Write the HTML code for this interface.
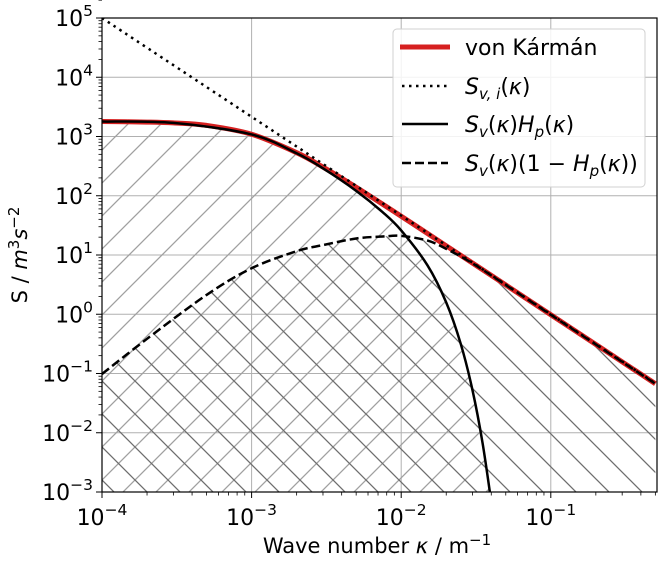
<!DOCTYPE html>
<html><head><meta charset="utf-8"><style>
html,body{margin:0;padding:0;background:#fff;overflow:hidden;width:664px;height:562px;}
svg{display:block;font-family:"DejaVu Sans","Liberation Sans",sans-serif;}
</style></head><body>
<svg id="chart" width="664" height="562" viewBox="0 0 664 562" xmlns="http://www.w3.org/2000/svg">
<defs>
<clipPath id="plotClip"><rect x="102" y="18" width="555" height="474"/></clipPath>
<pattern id="hatchFwd" patternUnits="userSpaceOnUse" width="33" height="33" x="102" y="18">
<path d="M-1,34 L34,-1 M-17,17 L17,-17 M16,50 L50,16" stroke="#a0a0a0" stroke-width="1.3"/>
</pattern>
<pattern id="hatchBack" patternUnits="userSpaceOnUse" width="33" height="33" x="102" y="18">
<path d="M-1,-1 L34,34 M16,-17 L50,17 M-17,16 L17,50" stroke="#6e6e6e" stroke-width="1.3"/>
</pattern>
</defs>
<g id="grid"></g>
<g id="fills" clip-path="url(#plotClip)"></g>
<g id="series" clip-path="url(#plotClip)"></g>
<rect x="102" y="18" width="555" height="474" fill="none" stroke="#000" stroke-width="1.2"/>
<g id="ticks"></g>
<text x="377" y="553" text-anchor="middle" font-size="21">Wave number <tspan font-style="italic">κ</tspan> / m<tspan dy="-8" font-size="15">−1</tspan></text>
<text transform="translate(27,255) rotate(-90)" text-anchor="middle" font-size="21">S / <tspan font-style="italic">m</tspan><tspan dy="-8" font-size="15">3</tspan><tspan dy="8" font-style="italic">s</tspan><tspan dy="-8" font-size="15">−2</tspan></text>
<g>
<rect x="393" y="29" width="252" height="158" rx="4" fill="#fff" fill-opacity="0.85" stroke="#d0d0d0"/>
<g>
<line x1="400" y1="47" x2="450" y2="47" stroke="#d62020" stroke-width="5"/>
<text x="465" y="55" font-size="22">von Kármán</text></g>
<g>
<line x1="402" y1="86" x2="448" y2="86" stroke="#000" stroke-width="2.5" stroke-dasharray="2.5,4.5"/>
<text x="465" y="94" font-size="22" font-style="italic">S<tspan dy="5" font-size="15">v, i</tspan><tspan dy="-5" font-style="normal">(</tspan>κ<tspan font-style="normal">)</tspan></text></g>
<g>
<line x1="402" y1="124" x2="448" y2="124" stroke="#000" stroke-width="2.5"/>
<text x="465" y="132" font-size="22" font-style="italic">S<tspan dy="5" font-size="15">v</tspan><tspan dy="-5" font-style="normal">(</tspan>κ<tspan font-style="normal">)</tspan>H<tspan dy="5" font-size="15">p</tspan><tspan dy="-5" font-style="normal">(</tspan>κ<tspan font-style="normal">)</tspan></text></g>
<g>
<line x1="402" y1="163" x2="448" y2="163" stroke="#000" stroke-width="2.5" stroke-dasharray="9,4"/>
<text x="465" y="171" font-size="22" font-style="italic">S<tspan dy="5" font-size="15">v</tspan><tspan dy="-5" font-style="normal">(</tspan>κ<tspan font-style="normal">)(1 − </tspan>H<tspan dy="5" font-size="15">p</tspan><tspan dy="-5" font-style="normal">(</tspan>κ<tspan font-style="normal">))</tspan></text></g>
</g>
</svg>
<script>
// ---- data ----
const svK = [1e-4, 2e-4, 3e-4, 5e-4, 1e-3, 2e-3, 3e-3, 5e-3, 1e-2, 2e-2, 5e-2, 0.1, 0.2, 0.5];
const svVal = [1788, 1751, 1696, 1540, 1090, 533, 304.6, 139, 45.1, 14.3, 3.12, 0.981, 0.309, 0.0672];
const sviK = [1e-4, 0.5];
const sviVal = [1e5, 0.068];
const hpK = [1e-4, 3e-4, 1e-3, 2e-3, 3e-3, 5e-3, 7.5e-3, 1e-2, 1.5e-2, 2e-2, 2.5e-2, 3e-2, 3.5e-2, 4e-2];
const hpVal = [1788, 1695, 1084, 521, 290, 121, 53.1, 26.0, 6.67, 1.58, 0.317, 0.0515, 0.00667, 0.00068];
const rK = [1e-4, 2e-4, 5e-4, 1e-3, 2e-3, 3e-3, 5e-3, 7.5e-3, 1e-2, 1.5e-2, 2e-2, 3e-2, 5e-2, 0.1, 0.2, 0.5];
const rVal = [0.098, 0.385, 2.12, 5.98, 11.6, 14.7, 19, 20.5, 21, 17.5, 12.7, 7.23, 3.12, 0.981, 0.309, 0.0672];
const xTickExp = [-4, -3, -2, -1];
const yTickExp = [5, 4, 3, 2, 1, 0, -1, -2, -3];

// ---- axes ----
const X0 = 102, XDEC = 149.6, Y0 = 18, YDEC = 59.25;
const X = k => X0 + (Math.log10(k) + 4) * XDEC;
const Y = v => Y0 + (5 - Math.log10(v)) * YDEC;
const NS = 'http://www.w3.org/2000/svg';
function mk(tag, attrs, parent){const e=document.createElementNS(NS,tag);for(const a in attrs)e.setAttribute(a,attrs[a]);parent.appendChild(e);return e;}

function pathD(ks, vs){
  const p = ks.map((k,i)=>[X(k),Y(vs[i])]);
  let d = 'M'+p[0][0]+','+p[0][1];
  for(let i=0;i<p.length-1;i++){
    const p0=p[Math.max(i-1,0)],p1=p[i],p2=p[i+1],p3=p[Math.min(i+2,p.length-1)];
    const c1=[p1[0]+(p2[0]-p0[0])/6,p1[1]+(p2[1]-p0[1])/6];
    const c2=[p2[0]-(p3[0]-p1[0])/6,p2[1]-(p3[1]-p1[1])/6];
    d+=' C'+c1+' '+c2+' '+p2;
  }
  return d;
}

const grid=document.getElementById('grid'), ticks=document.getElementById('ticks');
xTickExp.forEach(e=>{
  const x=X(Math.pow(10,e));
  const g=mk('line',{x1:x,x2:x,y1:18,y2:492,stroke:'#b0b0b0','stroke-width':1},grid);
  
  
  mk('line',{x1:x,x2:x,y1:492,y2:498,stroke:'#000','stroke-width':1},ticks);
  const t=mk('text',{x:x,y:525,'text-anchor':'middle','font-size':22},ticks);
  
  
  t.innerHTML='10<tspan dy="-10" font-size="15.5">−'+(-e)+'</tspan>';
  for(let m=2;m<=9;m++){const xm=X(m*Math.pow(10,e));if(xm<=657)mk('line',{x1:xm,x2:xm,y1:492,y2:495.5,stroke:'#000','stroke-width':0.8},ticks);}
});
yTickExp.forEach(e=>{
  const y=Y(Math.pow(10,e));
  const g=mk('line',{x1:102,x2:657,y1:y,y2:y,stroke:'#b0b0b0','stroke-width':1},grid);
  
  
  mk('line',{x1:96,x2:102,y1:y,y2:y,stroke:'#000','stroke-width':1},ticks);
  const t=mk('text',{x:93,y:y+8,'text-anchor':'end','font-size':22},ticks);
  
  
  t.innerHTML='10<tspan dy="-10" font-size="15.5">'+(e<0?'−'+(-e):e)+'</tspan>';
  if(e>-3)for(let m=2;m<=9;m++){const ym=Y(m*Math.pow(10,e));mk('line',{x1:98.5,x2:102,y1:ym,y2:ym,stroke:'#000','stroke-width':0.8},ticks);}
});

// ---- hatched fills ----
const fills=document.getElementById('fills');
const bottomClose=(ks)=>' L'+X(ks[ks.length-1])+',600 L'+X(ks[0])+',600 Z';
const f1=mk('path',{d:pathD(hpK,hpVal)+bottomClose(hpK),fill:'url(#hatchFwd)'},fills);


const f2=mk('path',{d:pathD(rK,rVal)+bottomClose(rK),fill:'url(#hatchBack)'},fills);



// ---- series ----
const series=document.getElementById('series');
const s1=mk('path',{d:pathD(svK,svVal),fill:'none',stroke:'#d62020','stroke-width':5},series);


const s2=mk('path',{d:pathD(sviK,sviVal),fill:'none',stroke:'#000','stroke-width':2.5,'stroke-dasharray':'2.5,4.5'},series);


const s3=mk('path',{d:pathD(hpK,hpVal),fill:'none',stroke:'#000','stroke-width':2.5},series);


const s4=mk('path',{d:pathD(rK,rVal),fill:'none',stroke:'#000','stroke-width':2.5,'stroke-dasharray':'9,4'},series);


</script>
</body></html>
